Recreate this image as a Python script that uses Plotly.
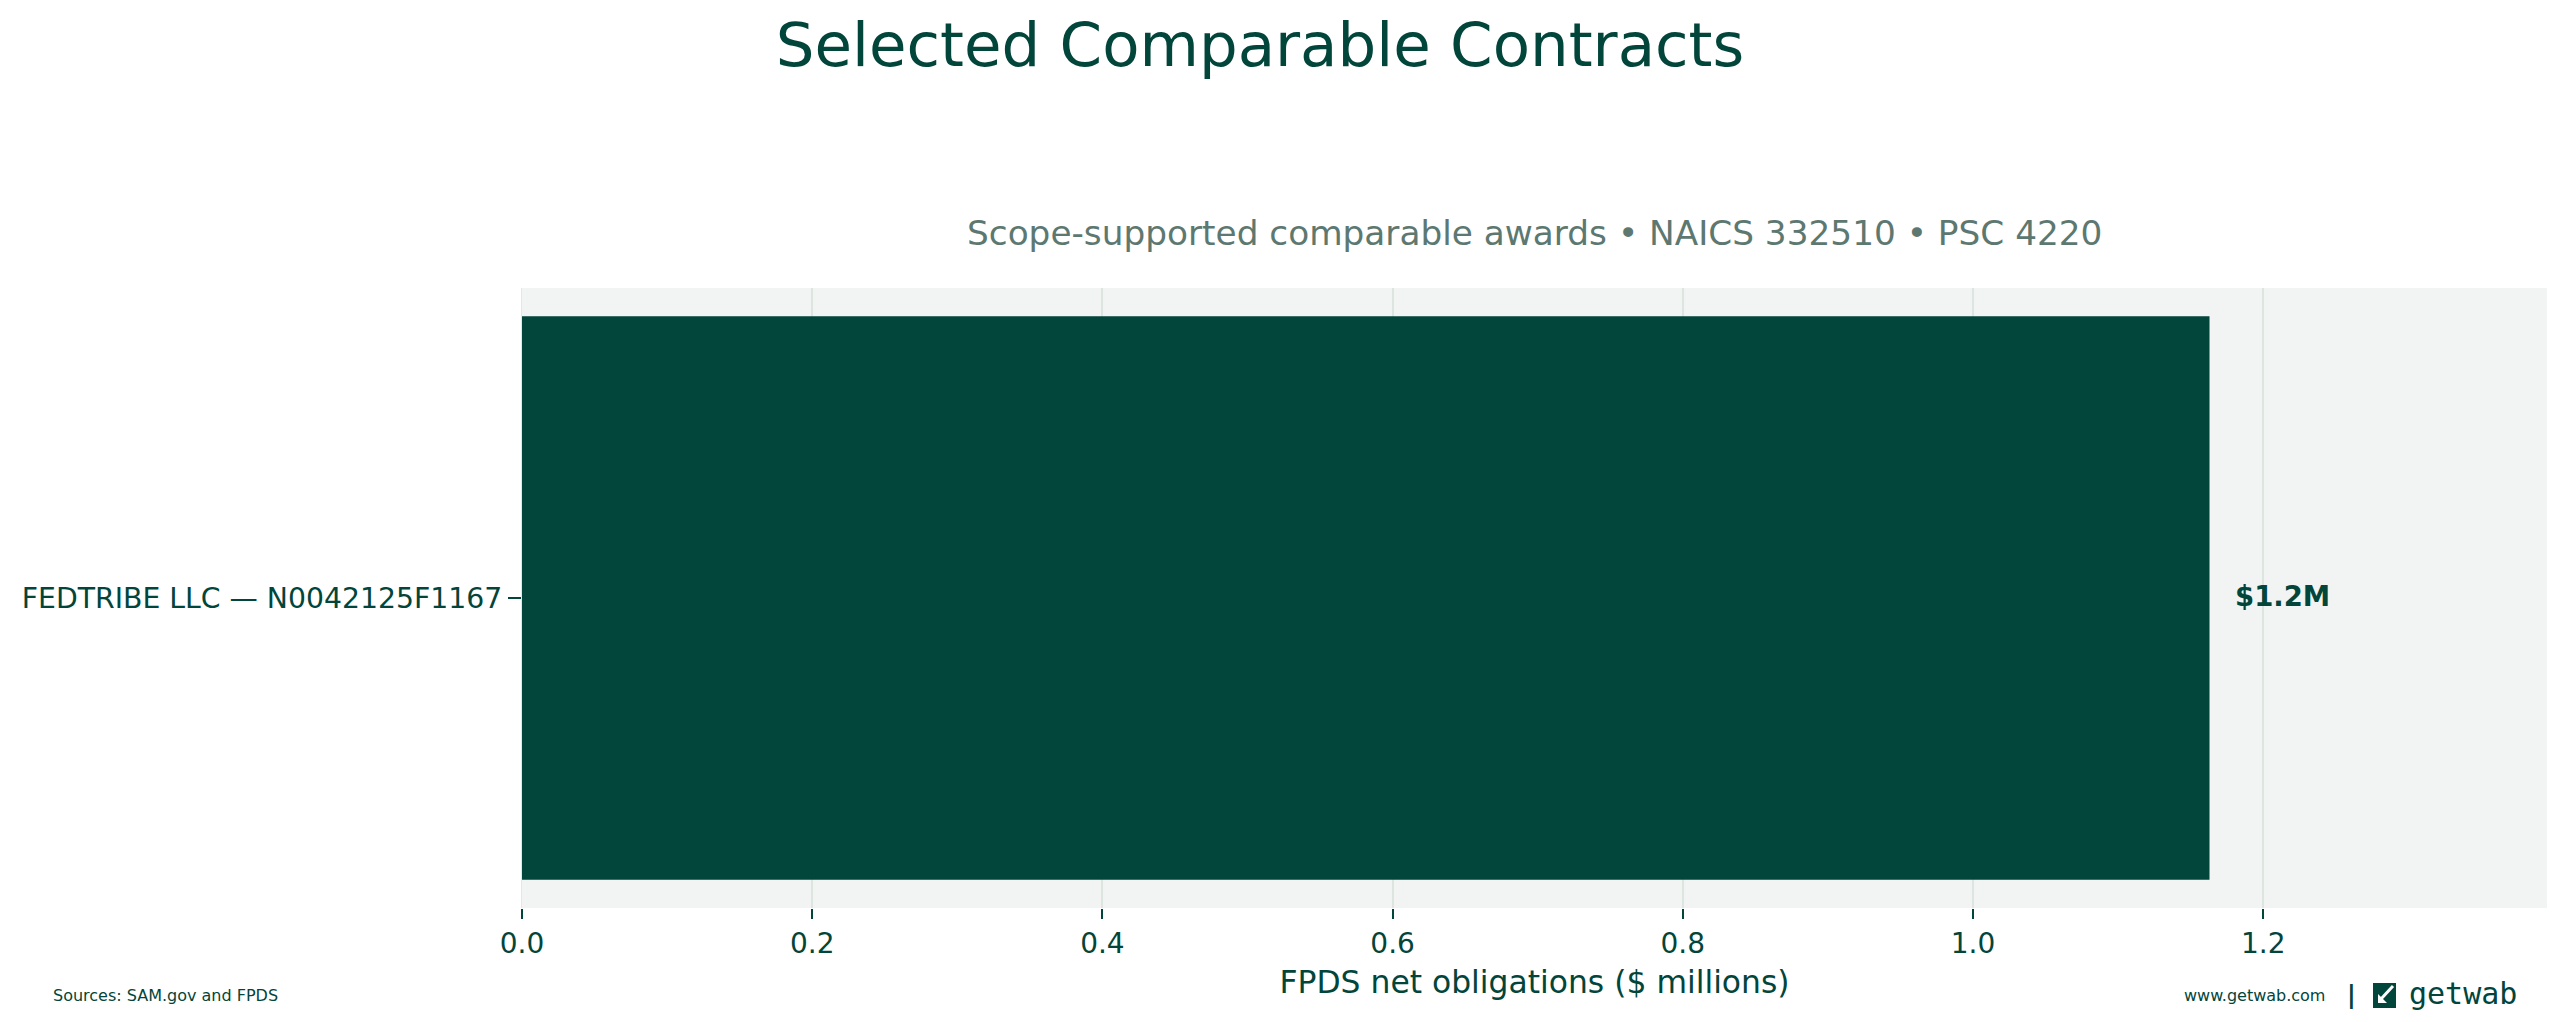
import plotly.graph_objects as go

# data
contracts = ["FEDTRIBE LLC — N0042125F1167"]
obligations_m = [1.163]          # FPDS net obligations, $ millions
x_ticks = [0.0, 0.2, 0.4, 0.6, 0.8, 1.0, 1.2]

TITLE = "Selected Comparable Contracts"
SUBTITLE = "Scope-supported comparable awards • NAICS 332510 • PSC 4220"
XLABEL = "FPDS net obligations ($ millions)"
SOURCE = "Sources: SAM.gov and FPDS"
SITE = "www.getwab.com"

GREEN = "#02453a"
MUTED = "#5d7870"
PLOT_BG = "#f2f4f3"
GRID = "#dde5e1"
FONT = "DejaVu Sans"

W, H = 2569, 1022
PL, PR, PT, PB = 522, 2547, 288, 908   # plot area in pixels


def px(x):
    return (x - PL) / (PR - PL)


def py(y):
    return (PB - y) / (PB - PT)


fig = go.Figure()
fig.add_trace(go.Bar(
    y=contracts,
    x=obligations_m,
    orientation="h",
    width=0.8,
    marker=dict(color=GREEN, line=dict(width=0)),
    hoverinfo="x+y",
))

annotations = []
for name, val in zip(contracts, obligations_m):
    annotations.append(dict(
        x=val, y=name, xref="x", yref="y", xanchor="left", yanchor="middle",
        xshift=23, yshift=2, showarrow=False,
        text=f"<b>${val:.1f}M</b>", font=dict(family=FONT, size=27.5, color=GREEN),
    ))

# subtitle (axes title)
annotations.append(dict(
    x=0.5, y=py(233), xref="paper", yref="paper", xanchor="center", yanchor="middle",
    showarrow=False, text=SUBTITLE, font=dict(family=FONT, size=34.3, color=MUTED),
))
# footer
annotations.append(dict(
    x=px(51), y=py(995), xref="paper", yref="paper", xanchor="left", yanchor="middle",
    showarrow=False, text=SOURCE, font=dict(family=FONT, size=16, color=GREEN),
))
annotations.append(dict(
    x=px(2327), y=py(995), xref="paper", yref="paper", xanchor="right", yanchor="middle",
    showarrow=False, text=SITE, font=dict(family=FONT, size=16, color=GREEN),
))
annotations.append(dict(
    x=px(2351), y=py(995), xref="paper", yref="paper", xanchor="center", yanchor="middle",
    showarrow=False, text="<b>|</b>", font=dict(family=FONT, size=24, color=GREEN),
))
annotations.append(dict(
    x=px(2407), y=py(993), xref="paper", yref="paper", xanchor="left", yanchor="middle",
    showarrow=False, text="getwab", font=dict(family="DejaVu Sans Mono", size=30, color=GREEN),
))

# little logo mark
shapes = [
    dict(type="rect", xref="paper", yref="paper",
         x0=px(2373), x1=px(2396), y0=py(1008), y1=py(983),
         fillcolor=GREEN, line=dict(width=0)),
    dict(type="line", xref="paper", yref="paper",
         x0=px(2393), y0=py(986), x1=px(2381), y1=py(999),
         line=dict(color="white", width=3)),
    dict(type="path", xref="paper", yref="paper",
         path=f"M {px(2378)},{py(1003)} L {px(2378)},{py(994)} L {px(2387)},{py(1003)} Z",
         fillcolor="white", line=dict(width=0)),
]

fig.update_layout(
    width=W, height=H,
    margin=dict(l=PL, r=W - PR, t=PT, b=H - PB, pad=0),
    paper_bgcolor="white",
    plot_bgcolor=PLOT_BG,
    font=dict(family=FONT, color=GREEN),
    showlegend=False,
    title=dict(
        text=TITLE, x=1260 / W, xanchor="center", y=1 - 45 / H, yanchor="middle",
        xref="container", yref="container",
        font=dict(family=FONT, size=61, color=GREEN),
    ),
    xaxis=dict(
        range=[0, max(obligations_m) * 1.2],
        tickvals=x_ticks, ticktext=[f"{t:.1f}" for t in x_ticks],
        ticks="outside", ticklen=10, tickwidth=2, tickcolor=GREEN,
        tickfont=dict(family=FONT, size=28, color=GREEN),
        showgrid=True, gridcolor=GRID, gridwidth=1.5,
        zeroline=False, showline=False,
        title=dict(text=XLABEL, font=dict(family=FONT, size=31.4, color=GREEN), standoff=12),
    ),
    yaxis=dict(
        range=[-0.44, 0.44],
        ticks="outside", ticklen=13, tickwidth=2, tickcolor=GREEN,
        tickfont=dict(family=FONT, size=28.3, color=GREEN),
        showgrid=False, zeroline=False,
        showline=True, linecolor="#e3e7e5", linewidth=1,
    ),
    bargap=0.2,
    annotations=annotations,
    shapes=shapes,
)

fig.write_html(
    "out.html",
    config={"displayModeBar": False},
    post_script="document.body.style.margin='0';document.body.style.overflow='hidden';",
)
